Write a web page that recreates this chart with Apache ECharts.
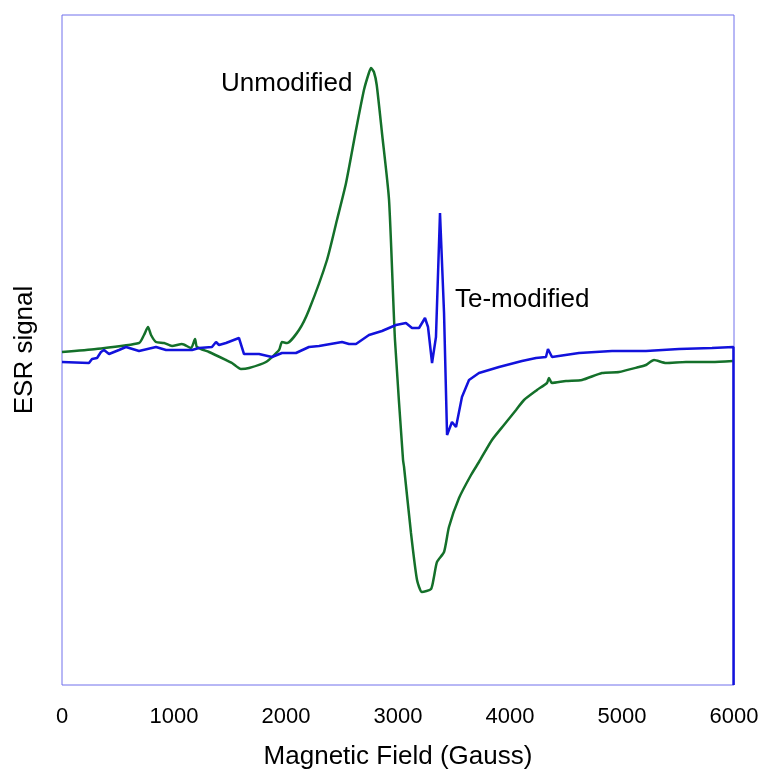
<html>
<head>
<meta charset="utf-8" />
<script src='https://cdn.jsdelivr.net/npm/echarts@6/dist/echarts.min.js'></script>
<style type="text/css">
	html, body, #main {
	width: 100%;
	height: 100%;
	margin: 0;
	background: #fff;
}
</style>
</head>
<body>
	<div id='main'></div>
	<script>
		var chart = echarts.init(document.getElementById('main'));

		// field values (Gauss) and ESR signal (arbitrary units)
		var unmodField = [0, 304, 688, 732, 768, 795, 839, 911, 982, 1071, 1152, 1188, 1205, 1313, 1464, 1518, 1598, 1670, 1821, 1938, 1964, 2009, 2116, 2205, 2366, 2455, 2536, 2625, 2696, 2740, 2759, 2785, 2810, 2857, 2920, 2973, 3045, 3054, 3116, 3170, 3214, 3295, 3321, 3348, 3411, 3455, 3545, 3652, 3723, 3839, 3946, 4054, 4125, 4241, 4330, 4348, 4375, 4500, 4643, 4821, 4973, 5152, 5214, 5286, 5393, 5571, 5804, 5990];
		var unmodSignal = [333, 336, 342, 350, 358, 350, 343, 342, 339, 341, 337, 346, 338, 333, 325, 322, 316, 317, 323, 335, 343, 342, 355, 375, 425, 465, 502, 555, 595, 612, 617, 613, 600, 552, 485, 345, 225, 218, 152, 105, 93, 96, 108, 123, 133, 158, 187, 210, 223, 245, 260, 275, 285, 295, 302, 307, 302, 304, 305, 312, 313, 318, 320, 325, 322, 323, 323, 324];

		var teField = [0, 241, 268, 313, 348, 375, 420, 509, 571, 688, 839, 929, 1161, 1223, 1339, 1375, 1402, 1464, 1580, 1625, 1759, 1875, 1964, 2089, 2205, 2295, 2500, 2563, 2625, 2741, 2857, 2982, 3071, 3125, 3188, 3241, 3268, 3304, 3339, 3375, 3384, 3411, 3438, 3482, 3518, 3571, 3634, 3723, 3902, 4107, 4232, 4321, 4339, 4375, 4616, 4911, 5214, 5509, 5804, 5995, 5996];
		var teSignal = [323, 322, 326, 327, 333, 335, 331, 335, 338, 334, 338, 335, 335, 337, 338, 343, 340, 342, 347, 331, 331, 328, 332, 332, 338, 339, 343, 341, 341, 350, 354, 360, 362, 357, 357, 367, 358, 322, 348, 472, 472, 372, 250, 263, 258, 288, 305, 312, 318, 324, 327, 328, 336, 328, 332, 334, 334, 336, 337, 338, 0];

		var xTicks = [0, 1000, 2000, 3000, 4000, 5000, 6000];

		function pairs(xs, ys) {
			var out = [];
			for (var i = 0; i < xs.length; i++) {
				out.push([xs[i], ys[i]]);
			}
			return out;
		}

		var font = 'Liberation Sans, Arial, sans-serif';

		var option = {
			animation : false,
			grid : {
				left : 62,
				right : 29,
				top : 15,
				bottom : 90,
				show : true,
				borderColor : '#7070ec',
				borderWidth : 1
			},
			xAxis : {
				type : 'value',
				min : 0,
				max : 6000,
				interval : 1000,
				name : 'Magnetic Field (Gauss)',
				nameLocation : 'middle',
				nameGap : 59,
				nameTextStyle : { fontFamily : font, fontSize : 26, color : '#000' },
				axisLine : { show : false },
				axisTick : { show : false },
				splitLine : { show : false },
				axisLabel : {
					fontFamily : font, fontSize : 22, color : '#000', margin : 21,
					formatter : function(v) { return xTicks.indexOf(v) >= 0 ? String(v) : ''; }
				}
			},
			yAxis : {
				type : 'value',
				min : 0,
				max : 670,
				name : 'ESR signal',
				nameLocation : 'middle',
				nameGap : 24,
				nameTextStyle : { fontFamily : font, fontSize : 26, color : '#000' },
				axisLine : { show : false },
				axisTick : { show : false },
				axisLabel : { show : false },
				splitLine : { show : false }
			},
			series : [ {
				name : 'Unmodified',
				type : 'line',
				data : pairs(unmodField, unmodSignal),
				showSymbol : false,
				smooth : 0.2,
				lineStyle : { color : '#14702a', width : 2.5 },
				z : 2
			}, {
				name : 'Te-modified',
				type : 'line',
				data : pairs(teField, teSignal),
				showSymbol : false,
				lineStyle : { color : '#1212dc', width : 2.5 },
				z : 3
			} ],
			graphic : [ {
				type : 'text',
				left : 221,
				top : 71,
				style : { text : 'Unmodified', font : '26px ' + font, fill : '#000' }
			}, {
				type : 'text',
				left : 455,
				top : 287,
				style : { text : 'Te-modified', font : '26px ' + font, fill : '#000' }
			} ]
		};

		chart.setOption(option);

		window.onresize = function() {
			chart.resize();
		}
	</script>
</body>
</html>
